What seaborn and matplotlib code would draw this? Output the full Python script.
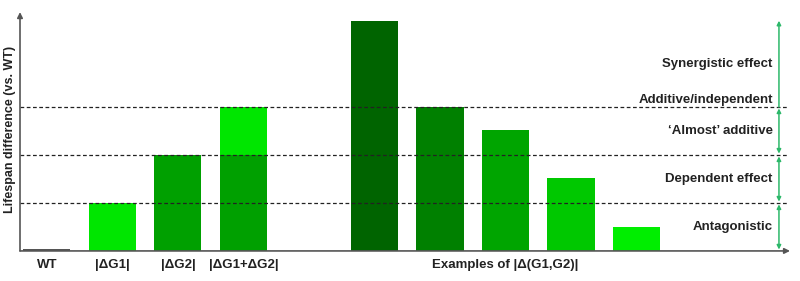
import matplotlib
matplotlib.use("Agg")
import matplotlib.pyplot as plt
import seaborn as sns
import pandas as pd

# ---- data ----
categories = ["WT", "|ΔG1|", "|ΔG2|", "|ΔG1+ΔG2|", "gap", "e1", "e2", "e3", "e4", "e5"]
values = [0.04, 1.0, 2.0, 2.0, 0.0, 4.8, 3.0, 2.52, 1.52, 0.5]
bar_colors = ["#555555", "#00e600", "#00a000", "#00a000", "#ffffff",
              "#006400", "#008000", "#00a500", "#00c800", "#00ee00"]
stack_cat = ["|ΔG1+ΔG2|"]
stack_val = [1.0]
stack_base = [2.0]
tick_labels = ["WT", "|ΔG1|", "|ΔG2|", "|ΔG1+ΔG2|", "", "", "", "Examples of |Δ(G1,G2)|", "", ""]
thresholds = [1, 2, 3]
region_labels = ["Antagonistic", "Dependent effect", "‘Almost’ additive", "Synergistic effect"]
region_label_y = [0.5, 1.5, 2.5, 3.9]
ylabel = "Lifespan difference (vs. WT)"

sns.set_style("white")
plt.rcParams["font.family"] = ["Liberation Sans", "DejaVu Sans"]

fig = plt.figure(figsize=(8, 2.81), dpi=100)
ax = fig.add_axes([0.025, 0.107, 0.9525, 0.85])

df = pd.DataFrame({"cat": categories, "val": values})
sns.barplot(data=df, x="cat", y="val", hue="cat", palette=bar_colors,
            order=categories, width=0.72, legend=False, ax=ax, saturation=1)
# stacked top of the combined bar
for c, v, b in zip(stack_cat, stack_val, stack_base):
    i = categories.index(c)
    ax.bar(i, v, bottom=b, width=0.72, color="#00e600", linewidth=0)
for p in ax.patches:
    p.set_linewidth(0)

ylim_top = 4.98
ax.set_xlim(-0.41, 11.22)
ax.set_ylim(0, ylim_top)

for t in thresholds:
    ax.plot([0, 1.008], [t, t], transform=ax.get_yaxis_transform(),
            color="#222222", lw=0.9, ls=(0, (3, 2)), clip_on=False, zorder=1)

ax.set_xticks(range(len(categories)))
ax.set_xticklabels(tick_labels, fontsize=9.5, fontweight="bold", color="#222222")
ax.set_yticks([1, 2, 3, 4])
ax.set_yticklabels([])
ax.tick_params(axis="y", length=3, direction="out", color="#666666", width=0.8)
ax.tick_params(axis="x", length=0, pad=6)
ax.set_xlabel("")
ax.set_ylabel("")
fig.text(0.013, 0.54, ylabel, rotation=90, ha="center", va="center",
         fontsize=9, fontweight="bold", color="#222222")

for s in ["top", "right", "bottom", "left"]:
    ax.spines[s].set_visible(False)

# axis arrows
ax.annotate("", xy=(0, 1.0), xytext=(0, 0), xycoords="axes fraction",
            arrowprops=dict(arrowstyle="-|>", color="#555555", lw=1.2,
                            mutation_scale=8, shrinkA=0, shrinkB=0))
ax.annotate("", xy=(1.0105, 0), xytext=(0, 0), xycoords="axes fraction",
            arrowprops=dict(arrowstyle="-|>", color="#555555", lw=1.2,
                            mutation_scale=8, shrinkA=0, shrinkB=0))

# green range arrows
green = "#2db86a"
xa = 0.996
trans = ax.get_yaxis_transform()
bounds = [0] + thresholds
for lo, hi in zip(bounds[:-1], bounds[1:]):
    ax.annotate("", xy=(xa, hi), xytext=(xa, lo), xycoords=trans, textcoords=trans,
                arrowprops=dict(arrowstyle="<|-|>", color=green, lw=1.1,
                                mutation_scale=6, shrinkA=1, shrinkB=1))
ax.annotate("", xy=(xa, 4.8), xytext=(xa, thresholds[-1]), xycoords=trans, textcoords=trans,
            arrowprops=dict(arrowstyle="-|>", color=green, lw=1.1,
                            mutation_scale=6, shrinkA=0, shrinkB=0))

for lab, y in zip(region_labels, region_label_y):
    ax.text(0.988, y, lab, transform=trans, ha="right", va="center",
            fontsize=9.5, fontweight="bold", color="#222222")
ax.text(0.988, thresholds[-1] + 0.03, "Additive/independent", transform=trans,
        ha="right", va="bottom", fontsize=9.5, fontweight="bold", color="#222222")

fig.savefig("out.png", dpi=100)
